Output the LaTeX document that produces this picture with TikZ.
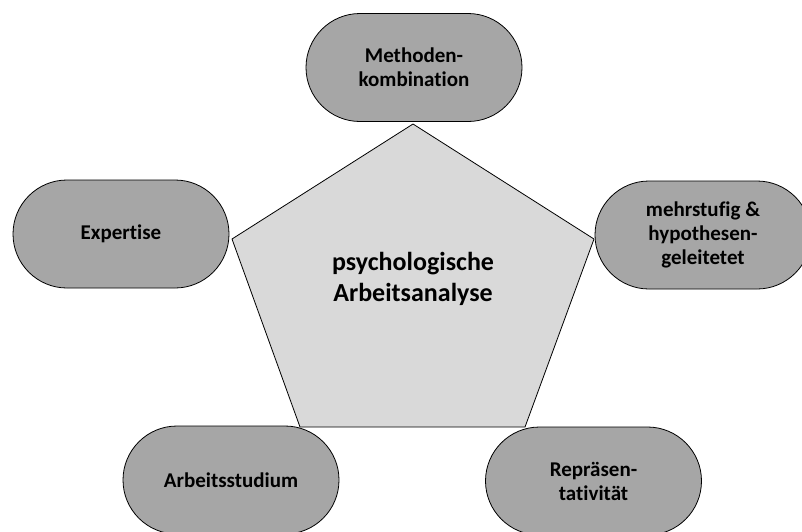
\documentclass[tikz,border=0pt]{standalone}
\usepackage{fontspec}
\setmainfont{Carlito}[Ligatures={NoCommon}]
\usetikzlibrary{calc}
\definecolor{pillgray}{HTML}{A6A6A6}
\definecolor{pentgray}{HTML}{D9D9D9}
\tikzset{
  aspect/.style={
    draw=black,
    fill=pillgray,
    line width=0.8pt,
    minimum width=216pt,
    minimum height=108pt,
    rounded corners=54pt,
    inner sep=0pt,
    align=center,
    font=\fontsize{21}{24}\selectfont\bfseries
  },
  core/.style={
    draw=black,
    fill=pentgray,
    line width=0.8pt,
    line join=miter
  },
  coretext/.style={
    align=center,
    font=\fontsize{26}{31}\selectfont\bfseries
  }
}

\begin{document}
\begin{tikzpicture}[x=1pt,y=-1pt]
  \useasboundingbox (0,0) rectangle (802,531);
  % pentagon corners
  \coordinate (ptop) at (413,124);
  \coordinate (pright) at (594,239);
  \coordinate (pbr) at (525,427);
  \coordinate (pbl) at (300,427);
  \coordinate (pleft) at (232,239);
  \filldraw[core] (ptop)--(pright)--(pbr)--(pbl)--(pleft)--cycle;
  \node[coretext] (centre) at (413,279) {psychologische\\Arbeitsanalyse};
  % surrounding aspects
  \node[aspect] (methoden) at (414,67.5) {Methoden-\\kombination};
  \node[aspect] (expertise) at (121,234) {Expertise};
  \node[aspect] (mehrstufig) at (703,235) {mehrstufig \&\\hypothesen-\\geleitetet};
  \node[aspect] (studium) at (231,480) {Arbeitsstudium};
  \node[aspect] (repr) at (593.5,481) {Repräsen-\\tativität};
\end{tikzpicture}
\end{document}
